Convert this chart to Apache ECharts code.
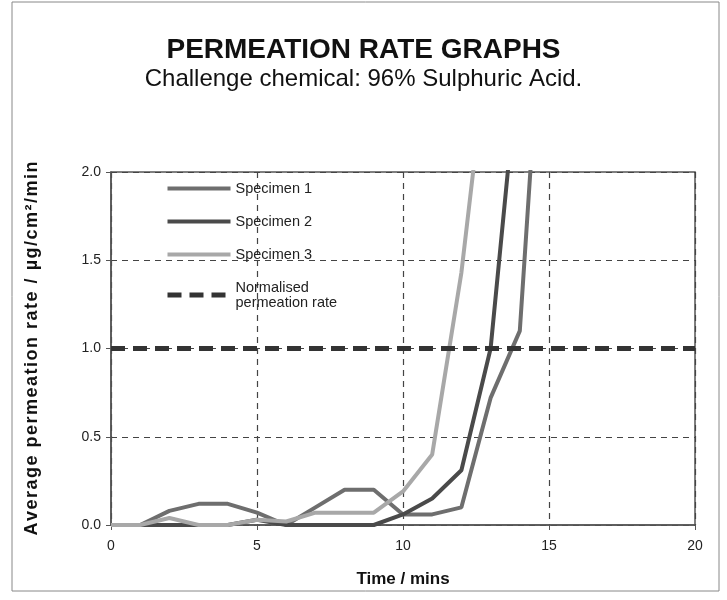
<!DOCTYPE html>
<html>
<head>
<meta charset="utf-8">
<script src="https://cdn.jsdelivr.net/npm/echarts@6/dist/echarts.min.js"></script>
<style>
* { margin: 0; padding: 0; }
body { background: #fff; }
#chart { width: 727px; height: 600px; }
</style>
</head>
<body>
<div id="chart"></div>
<script>
// time points (mins)
const times = [0, 1, 2, 3, 4, 5, 6, 7, 8, 9, 10, 11, 12, 13, 14, 15];
// permeation rate, ug/cm2/min (last points run off the top of the axis)
const specimen1 = [0, 0, 0.08, 0.12, 0.12, 0.07, 0, 0.1, 0.2, 0.2, 0.06, 0.06, 0.1, 0.72, 1.1, 3.6];
const specimen2 = [0, 0, 0, 0, 0, 0.03, 0, 0, 0, 0, 0.06, 0.15, 0.31, 1.0, 2.7];
const specimen3 = [0, 0, 0.04, 0, 0, 0.03, 0.02, 0.07, 0.07, 0.07, 0.19, 0.4, 1.43, 2.85];
const normTimes = [0, 20];
const normRate = [1.0, 1.0];
const xTicks = ['0', '5', '10', '15', '20'];
const yTicks = ['0.0', '0.5', '1.0', '1.5', '2.0'];

function pairs(xs, ys) {
    return ys.map((v, i) => [xs[i], v]);
}

// the scanned axis title is letter-spaced, hair spaces between the letters
function spaced(s) {
    return s.split('').join('\u200A');
}

const font = 'Liberation Sans, Arial, sans-serif';
const chart = echarts.init(document.getElementById('chart'));

const colors = { s1: '#6e6e6e', s2: '#4a4a4a', s3: '#a8a8a8', norm: '#333' };

function line(name, data, color, width, type) {
    return {
        name: name,
        type: 'line',
        data: data,
        symbol: 'none',
        clip: true,
        lineStyle: { color: color, width: width, type: type || 'solid' },
        itemStyle: { color: color }
    };
}

chart.setOption({
    animation: false,
    backgroundColor: '#fff',
    title: [
        {
            text: 'PERMEATION RATE GRAPHS',
            left: 'center',
            top: 31,
            textStyle: { fontFamily: font, fontSize: 28, fontWeight: 'bold', color: '#111' }
        },
        {
            text: 'Challenge chemical: 96% Sulphuric Acid.',
            left: 'center',
            top: 62,
            textStyle: { fontFamily: font, fontSize: 24, fontWeight: 'normal', color: '#111' }
        }
    ],
    graphic: [{
        type: 'rect',
        shape: { x: 12, y: 2, width: 707, height: 589 },
        style: { fill: 'none', stroke: '#888', lineWidth: 1 }
    }],
    legend: {
        orient: 'vertical',
        left: 160,
        top: 176,
        itemWidth: 63,
        itemHeight: 10,
        itemGap: 18,
        itemStyle: { opacity: 0 },
        textStyle: { fontFamily: font, fontSize: 14.5, color: '#222', lineHeight: 15 },
        data: [
            { name: 'Specimen 1', lineStyle: { width: 4 } },
            { name: 'Specimen 2', lineStyle: { width: 4 } },
            { name: 'Specimen 3', lineStyle: { width: 4 } },
            { name: 'Normalised\npermeation rate', lineStyle: { width: 5, type: [14, 8] } }
        ]
    },
    grid: {
        left: 111,
        right: 32,
        top: 172,
        bottom: 75,
        show: true,
        borderColor: '#555',
        borderWidth: 1.5
    },
    xAxis: {
        type: 'value',
        min: 0,
        max: 20,
        interval: 5,
        name: 'Time / mins',
        nameLocation: 'middle',
        nameGap: 46,
        nameTextStyle: { fontFamily: font, fontSize: 17, fontWeight: 'bold', color: '#111' },
        axisLine: { lineStyle: { color: '#555', width: 1.5 } },
        axisTick: { show: true, length: 5, lineStyle: { color: '#555' } },
        axisLabel: {
            fontFamily: font, fontSize: 14, color: '#222', margin: 14,
            formatter: v => xTicks[v / 5]
        },
        splitLine: { show: true, lineStyle: { color: '#444', type: [6, 5], width: 1.2 } }
    },
    yAxis: {
        type: 'value',
        min: 0,
        max: 2,
        interval: 0.5,
        name: spaced('Average permeation rate / µg/cm²/min'),
        nameLocation: 'middle',
        nameGap: 70,
        nameRotate: 90,
        nameTextStyle: { fontFamily: font, fontSize: 18, fontWeight: 'bold', color: '#111' },
        axisLine: { show: true, lineStyle: { color: '#555', width: 1.5 } },
        axisTick: { show: true, length: 5, lineStyle: { color: '#555' } },
        axisLabel: {
            fontFamily: font, fontSize: 14, color: '#222', margin: 10,
            formatter: v => yTicks[Math.round(v / 0.5)]
        },
        splitLine: { show: true, lineStyle: { color: '#444', type: [6, 5], width: 1.2 } }
    },
    series: [
        line('Specimen 1', pairs(times, specimen1), colors.s1, 4),
        line('Specimen 2', pairs(times, specimen2), colors.s2, 4),
        line('Specimen 3', pairs(times, specimen3), colors.s3, 4),
        line('Normalised\npermeation rate', pairs(normTimes, normRate), colors.norm, 5, [14, 8])
    ]
});
</script>
</body>
</html>
